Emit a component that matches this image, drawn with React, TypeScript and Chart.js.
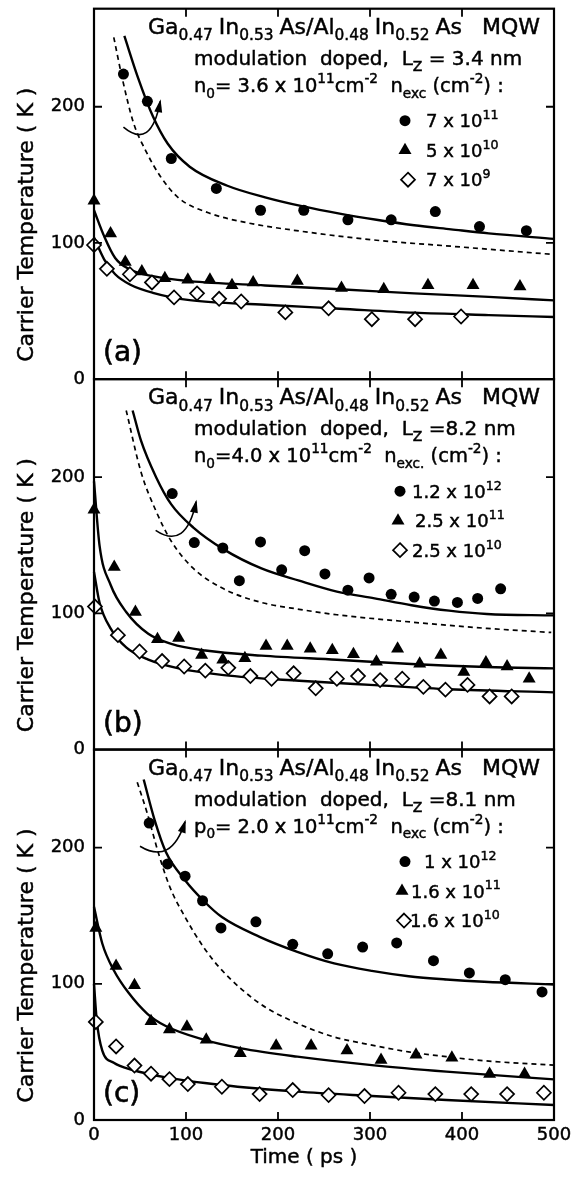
import React, { useEffect, useRef } from 'react';
import { Chart, registerables } from 'chart.js';

Chart.register(...registerables);

const FONT = '"DejaVu Sans", "Liberation Sans", sans-serif';

// ---------- axes ----------
const X_TICKS = [0, 100, 200, 300, 400, 500];
const Y_TICKS = [0, 100, 200];
const X_MIN = 0;
const X_MAX = 500;
const Y_MAX = 272;

// ---------- panel (a) ----------
const A_CIRC_T = [32, 58, 84, 133, 181, 228, 276, 323, 371, 419, 470];
const A_CIRC_K = [224, 204, 162, 140, 124, 124, 117, 117, 123, 112, 109];
const A_TRI_T = [0, 18, 34, 52, 77, 102, 126, 150, 173, 221, 269, 315, 363, 412, 463];
const A_TRI_K = [131, 107, 86, 79, 74, 73, 73, 69, 71, 72, 67, 66, 69, 69, 68];
const A_DIA_T = [0, 14, 39, 63, 87, 112, 136, 160, 208, 255, 302, 349, 399];
const A_DIA_K = [98.5, 81, 77, 71, 60, 63, 59, 57, 49, 52, 44, 44, 46];
const A_FIT1_T = [33, 47.5, 64, 80, 104, 145, 186, 226, 267, 307, 348, 388, 429, 500];
const A_FIT1_K = [252, 222, 193, 173, 156, 142, 133.5, 127, 121.5, 117, 113, 110, 107, 103];
const A_DASH_T = [21.5, 31, 43, 56, 72, 92, 125, 165, 226, 307, 388, 500];
const A_DASH_K = [251, 220, 188, 168, 149, 133, 122, 115, 108.5, 102, 97.6, 91.5];
const A_FIT2_T = [0, 11, 23, 39, 64, 104, 186, 267, 348, 429, 500];
const A_FIT2_K = [124, 105, 89, 80.5, 75.6, 72, 68.8, 66, 63, 60.4, 57.8];
const A_FIT3_T = [0, 11, 23, 39, 64, 104, 186, 267, 348, 429, 500];
const A_FIT3_K = [104, 88, 77, 69.5, 63.4, 58, 54.6, 51.7, 48.8, 47, 45.6];
const A_ARROW_T = [32, 62, 72];
const A_ARROW_K = [185, 168, 204];

// ---------- panel (b) ----------
const B_CIRC_T = [85, 109, 140, 158, 181, 204, 229, 251, 276, 299, 323, 348, 370, 395, 417, 442];
const B_CIRC_K = [188, 152, 148, 124, 152.5, 132, 146, 129, 117, 126, 114, 112, 109, 108, 111, 118];
const B_TRI_T = [0, 22, 45, 69, 92, 117, 140, 164, 187, 210, 235, 259, 282, 307, 330, 354, 377, 402, 426, 449, 473];
const B_TRI_K = [176, 134, 101, 81, 82, 69.5, 66, 67, 76, 76, 74, 73, 70, 64.5, 74, 63, 69.5, 57, 64, 61, 52];
const B_DIA_T = [1, 26, 49.5, 74, 98, 121, 146, 170, 193, 217, 241, 264, 287, 311, 335, 358, 382, 406, 430, 454];
const B_DIA_K = [105, 84, 72, 65, 61, 58, 60, 54, 52, 56, 45, 52, 54, 51, 52, 46, 44, 47.5, 39, 39];
const B_FIT1_T = [42, 51, 67.5, 84, 108, 141, 182, 223, 264, 305, 345, 386, 427, 500];
const B_FIT1_K = [249, 227, 200, 180, 163, 147, 133, 124, 116, 111, 106, 102, 99.5, 98.5];
const B_DASH_T = [35, 51, 67.5, 84, 108, 141, 182, 223, 264, 345, 427, 497];
const B_DASH_K = [249, 204, 175, 153, 133, 118, 108, 103, 99, 93.6, 89, 86];
const B_FIT2_T = [0, 6, 18, 35, 59, 84, 121, 182, 264, 345, 427, 500];
const B_FIT2_K = [197, 150, 121, 101, 85, 77.6, 72.7, 69, 66, 62.8, 60.6, 59.6];
const B_FIT3_T = [0, 6, 18, 35, 59, 92, 141, 223, 305, 386, 500];
const B_FIT3_K = [130.5, 108, 89, 75, 66, 59.6, 54.7, 50.5, 47.3, 44.3, 42];
const B_ARROW_T = [67, 100, 111];
const B_ARROW_K = [161, 146, 182];

// ---------- panel (c) ----------
const C_CIRC_T = [60, 80, 99, 118, 138, 176, 216, 254, 292, 329, 369, 408, 447, 487];
const C_CIRC_K = [218, 188, 179, 161, 141, 145.5, 129, 122, 127, 130, 117, 108, 103, 94];
const C_TRI_T = [2, 24, 44, 62, 82, 101, 122, 159, 198, 236, 275, 312, 350, 389, 430, 468];
const C_TRI_K = [141, 113, 99, 72.6, 66.5, 68.5, 59, 49, 54.5, 54.5, 51, 44, 48, 45.7, 33.7, 33.7];
const C_DIA_T = [2, 24, 44, 62, 82, 102, 139, 180, 216, 255, 294, 331, 371, 410, 449, 489];
const C_DIA_K = [72, 54, 40, 34, 30, 26.4, 24.4, 19, 22, 18.3, 17.6, 20, 19, 19, 19, 20];
const C_FIT1_T = [54, 66, 78, 99, 119, 139, 180, 221, 261, 302, 342, 383, 424, 500];
const C_FIT1_K = [250, 220, 197, 176, 161, 149, 134.5, 123.5, 115, 109.5, 105.6, 103.2, 101.5, 99.5];
const C_DASH_T = [47, 58, 70, 82.5, 99, 119, 139, 180, 221, 261, 302, 342, 383, 424, 500];
const C_DASH_K = [248, 225, 196, 171, 149, 127, 110, 85.6, 71, 61, 55, 50, 46.5, 43.5, 40.3];
const C_FIT2_T = [0, 9, 21.5, 38, 58, 78, 119, 160, 221, 302, 383, 500];
const C_FIT2_K = [156.5, 129.6, 110, 93, 78, 69, 59, 52.6, 46.5, 40.3, 35.5, 29.8];
const C_FIT3_T = [0, 3, 9, 21.5, 42, 78, 139, 221, 302, 383, 500];
const C_FIT3_K = [100, 73, 51, 42, 36.7, 31.3, 25.7, 20.8, 17.6, 14.7, 11];
const C_ARROW_T = [50, 84, 99];
const C_ARROW_K = [201, 187, 219];

// ---------- texts ----------
type Seg = [string, number]; // 0 normal, -1 subscript, 1 superscript
const HEAD: Seg[] = [['Ga', 0], ['0.47', -1], ['In', 0], ['0.53', -1], ['As/Al', 0], ['0.48', -1], ['In', 0], ['0.52', -1], ['As', 0], ['  MQW', 0]];
const A_LINE2: Seg[] = [['modulation  doped,  L', 0], ['Z', -1], [' = 3.4 nm', 0]];
const B_LINE2: Seg[] = [['modulation  doped,  L', 0], ['Z', -1], [' =8.2 nm', 0]];
const C_LINE2: Seg[] = [['modulation  doped,  L', 0], ['Z', -1], [' =8.1 nm', 0]];
const A_LINE3: Seg[] = [['n', 0], ['0', -1], ['= 3.6 x 10', 0], ['11', 1], ['cm', 0], ['-2', 1], ['  n', 0], ['exc', -1], [' (cm', 0], ['-2', 1], [') :', 0]];
const B_LINE3: Seg[] = [['n', 0], ['0', -1], ['=4.0 x 10', 0], ['11', 1], ['cm', 0], ['-2', 1], ['  n', 0], ['exc.', -1], [' (cm', 0], ['-2', 1], [') :', 0]];
const C_LINE3: Seg[] = [['p', 0], ['0', -1], ['= 2.0 x 10', 0], ['11', 1], ['cm', 0], ['-2', 1], ['  n', 0], ['exc', -1], [' (cm', 0], ['-2', 1], [') :', 0]];
const A_LEGEND: Seg[][] = [[['7 x 10', 0], ['11', 1]], [['5 x 10', 0], ['10', 1]], [['7 x 10', 0], ['9', 1]]];
const B_LEGEND: Seg[][] = [[['1.2 x 10', 0], ['12', 1]], [['2.5 x 10', 0], ['11', 1]], [['2.5 x 10', 0], ['10', 1]]];
const C_LEGEND: Seg[][] = [[['1 x 10', 0], ['12', 1]], [['1.6 x 10', 0], ['11', 1]], [['1.6 x 10', 0], ['10', 1]]];
const Y_TITLE = 'Carrier Temperature ( K )';
const X_TITLE = 'Time ( ps )';

const PANELS = [
  { id: 'yA', tag: '(a)', circ: [A_CIRC_T, A_CIRC_K], tri: [A_TRI_T, A_TRI_K], dia: [A_DIA_T, A_DIA_K],
    fits: [[A_FIT1_T, A_FIT1_K], [A_FIT2_T, A_FIT2_K], [A_FIT3_T, A_FIT3_K]], dash: [A_DASH_T, A_DASH_K],
    arrow: [A_ARROW_T, A_ARROW_K], line2: A_LINE2, line3: A_LINE3, legend: A_LEGEND,
    mx: [311, 311, 314], tx: [332, 332, 332] },
  { id: 'yB', tag: '(b)', circ: [B_CIRC_T, B_CIRC_K], tri: [B_TRI_T, B_TRI_K], dia: [B_DIA_T, B_DIA_K],
    fits: [[B_FIT1_T, B_FIT1_K], [B_FIT2_T, B_FIT2_K], [B_FIT3_T, B_FIT3_K]], dash: [B_DASH_T, B_DASH_K],
    arrow: [B_ARROW_T, B_ARROW_K], line2: B_LINE2, line3: B_LINE3, legend: B_LEGEND,
    mx: [306, 304, 306], tx: [318, 321, 318] },
  { id: 'yC', tag: '(c)', circ: [C_CIRC_T, C_CIRC_K], tri: [C_TRI_T, C_TRI_K], dia: [C_DIA_T, C_DIA_K],
    fits: [[C_FIT1_T, C_FIT1_K], [C_FIT2_T, C_FIT2_K], [C_FIT3_T, C_FIT3_K]], dash: [C_DASH_T, C_DASH_K],
    arrow: [C_ARROW_T, C_ARROW_K], line2: C_LINE2, line3: C_LINE3, legend: C_LEGEND,
    mx: [311, 308, 310], tx: [330, 317, 316] },
];

const pts = (ts: number[], ks: number[]) => ts.map((t, i) => ({ x: t, y: ks[i] }));

const R_CIRC = 5.5;
const R_TRI = 7.5;
const R_DIA = 7;
const TEXT_STROKE = 0.45;

function markerDs(id: string, d: number[][], style: string) {
  const base: any = { yAxisID: id, data: pts(d[0], d[1]), showLine: false, clip: false, order: 0,
    pointBorderColor: '#000', pointBackgroundColor: '#000', pointBorderWidth: 0 };
  if (style === 'circle') return { ...base, pointStyle: 'circle', pointRadius: R_CIRC };
  if (style === 'triangle') return { ...base, pointStyle: 'triangle', pointRadius: R_TRI };
  return { ...base, pointStyle: 'rectRot', pointRadius: R_DIA, pointBackgroundColor: '#fff', pointBorderWidth: 1.7 };
}

function curveDs(id: string, d: number[][], dashed: boolean) {
  return { yAxisID: id, data: pts(d[0], d[1]), showLine: true, pointRadius: 0, borderColor: '#000',
    borderWidth: dashed ? 1.7 : 2.4, borderDash: dashed ? [5, 4] : [], cubicInterpolationMode: 'monotone',
    fill: false, clip: false, order: 1 };
}

function segFont(size: number, k: number) {
  return `${k ? size * 0.7 : size}px ${FONT}`;
}

// draws a line of text with sub/superscripts; if fitWidth is given, extra space goes before normal segments
function drawRich(ctx: CanvasRenderingContext2D, segs: Seg[], x: number, y: number, size: number, fitWidth = 0) {
  ctx.textAlign = 'left';
  ctx.textBaseline = 'alphabetic';
  let natural = 0;
  let nGaps = 0;
  segs.forEach(([t, k], i) => {
    ctx.font = segFont(size, k);
    natural += ctx.measureText(t).width;
    if (i > 0 && k === 0) nGaps++;
  });
  const gap = fitWidth > 0 && nGaps > 0 ? Math.max(0, (fitWidth - natural) / nGaps) : 0;
  let cx = x;
  ctx.lineWidth = TEXT_STROKE;
  ctx.strokeStyle = '#000';
  segs.forEach(([t, k], i) => {
    if (i > 0 && k === 0) cx += gap;
    ctx.font = segFont(size, k);
    const dy = k === -1 ? size * 0.3 : k === 1 ? -size * 0.45 : 0;
    ctx.fillText(t, cx, y + dy);
    ctx.strokeText(t, cx, y + dy);
    cx += ctx.measureText(t).width;
  });
}

function drawMarker(ctx: CanvasRenderingContext2D, style: number, x: number, y: number) {
  ctx.beginPath();
  if (style === 0) {
    ctx.arc(x, y, R_CIRC, 0, Math.PI * 2);
    ctx.fillStyle = '#000';
    ctx.fill();
  } else if (style === 1) {
    ctx.moveTo(x, y - R_TRI);
    ctx.lineTo(x + R_TRI * 0.866, y + R_TRI * 0.5);
    ctx.lineTo(x - R_TRI * 0.866, y + R_TRI * 0.5);
    ctx.closePath();
    ctx.fillStyle = '#000';
    ctx.fill();
  } else {
    ctx.moveTo(x, y - R_DIA);
    ctx.lineTo(x + R_DIA, y);
    ctx.lineTo(x, y + R_DIA);
    ctx.lineTo(x - R_DIA, y);
    ctx.closePath();
    ctx.fillStyle = '#fff';
    ctx.fill();
    ctx.lineWidth = 1.7;
    ctx.strokeStyle = '#000';
    ctx.stroke();
  }
}

const TICK = 8;

const decoPlugin = {
  id: 'deco',
  afterDatasetsDraw(chart: any) {
    const ctx = chart.ctx as CanvasRenderingContext2D;
    const xs = chart.scales.x;
    const { left, right } = chart.chartArea;
    ctx.save();
    ctx.fillStyle = '#000';
    ctx.strokeStyle = '#000';
    PANELS.forEach((p) => {
      const ys = chart.scales[p.id];
      const top = ys.top;
      const bottom = ys.bottom;
      // frame
      ctx.lineWidth = 2.2;
      ctx.strokeStyle = '#000';
      ctx.strokeRect(left, top, right - left, bottom - top);
      // inward ticks
      ctx.lineWidth = 1.8;
      ctx.beginPath();
      X_TICKS.slice(1, -1).forEach((v) => {
        const px = xs.getPixelForValue(v);
        ctx.moveTo(px, top);
        ctx.lineTo(px, top + TICK);
        ctx.moveTo(px, bottom);
        ctx.lineTo(px, bottom - TICK);
      });
      Y_TICKS.slice(1).forEach((v) => {
        const py = ys.getPixelForValue(v);
        ctx.moveTo(left, py);
        ctx.lineTo(left + TICK, py);
        ctx.moveTo(right, py);
        ctx.lineTo(right - TICK, py);
      });
      ctx.stroke();
      // curved arrow
      const [at, ak] = p.arrow;
      const P = at.map((t: number, i: number) => [xs.getPixelForValue(t), ys.getPixelForValue(ak[i])]);
      ctx.lineWidth = 1.6;
      ctx.beginPath();
      ctx.moveTo(P[0][0], P[0][1]);
      ctx.quadraticCurveTo(P[1][0], P[1][1], P[2][0], P[2][1]);
      ctx.stroke();
      const ang = Math.atan2(P[2][1] - P[1][1], P[2][0] - P[1][0]);
      const hl = 11, hw = 4;
      ctx.beginPath();
      ctx.moveTo(P[2][0] + Math.cos(ang) * 2, P[2][1] + Math.sin(ang) * 2);
      ctx.lineTo(P[2][0] - Math.cos(ang) * hl + Math.sin(ang) * hw, P[2][1] - Math.sin(ang) * hl - Math.cos(ang) * hw);
      ctx.lineTo(P[2][0] - Math.cos(ang) * hl - Math.sin(ang) * hw, P[2][1] - Math.sin(ang) * hl + Math.cos(ang) * hw);
      ctx.closePath();
      ctx.fillStyle = '#000';
      ctx.fill();
      // annotation
      ctx.fillStyle = '#000';
      drawRich(ctx, HEAD, left + 54, top + 25, 22, 392);
      drawRich(ctx, p.line2, left + 100, top + 56, 20);
      drawRich(ctx, p.line3, left + 100, top + 83, 19.5);
      p.legend.forEach((segs: Seg[], i: number) => {
        const cy = top + 112 + i * 29.5;
        drawMarker(ctx, i, left + p.mx[i], cy);
        ctx.fillStyle = '#000';
        drawRich(ctx, segs, left + p.tx[i], cy + 6.5, 18);
      });
      // panel tag
      ctx.font = `28px ${FONT}`;
      ctx.textAlign = 'left';
      ctx.textBaseline = 'alphabetic';
      ctx.lineWidth = 0.6;
      ctx.fillText(p.tag, left + 9, bottom - 18);
      ctx.strokeText(p.tag, left + 9, bottom - 18);
      // y title
      ctx.save();
      ctx.translate(27, top + 216);
      ctx.rotate(-Math.PI / 2);
      ctx.font = `22px ${FONT}`;
      ctx.textAlign = 'center';
      ctx.textBaseline = 'middle';
      ctx.lineWidth = TEXT_STROKE;
      ctx.fillText(Y_TITLE, 0, 0);
      ctx.strokeText(Y_TITLE, 0, 0);
      ctx.restore();
    });
    // x title
    ctx.font = `20px ${FONT}`;
    ctx.textAlign = 'center';
    ctx.textBaseline = 'alphabetic';
    ctx.lineWidth = TEXT_STROKE;
    ctx.fillText(X_TITLE, left + 210, chart.chartArea.bottom + 43);
    ctx.strokeText(X_TITLE, left + 210, chart.chartArea.bottom + 43);
    ctx.restore();
  },
};

function yScale() {
  return {
    type: 'linear',
    position: 'left',
    stack: 'panels',
    stackWeight: 1,
    min: 0,
    max: Y_MAX,
    grid: { display: false, drawTicks: false },
    border: { display: false },
    ticks: { color: '#000', font: { family: FONT, size: 18 }, padding: 9, textStrokeColor: '#000', textStrokeWidth: TEXT_STROKE },
    afterBuildTicks: (s: any) => { s.ticks = Y_TICKS.map((v) => ({ value: v })); },
    afterFit: (s: any) => { s.width = 94; s.paddingTop = 0; s.paddingBottom = 0; },
  };
}

export default function App() {
  const ref = useRef<HTMLCanvasElement>(null);
  useEffect(() => {
    document.body.style.margin = '0';
    const datasets: any[] = [];
    PANELS.forEach((p) => {
      datasets.push(markerDs(p.id, p.circ, 'circle'));
      datasets.push(markerDs(p.id, p.tri, 'triangle'));
      datasets.push(markerDs(p.id, p.dia, 'diamond'));
      p.fits.forEach((f) => datasets.push(curveDs(p.id, f, false)));
      datasets.push(curveDs(p.id, p.dash, true));
    });
    const chart = new Chart(ref.current as HTMLCanvasElement, {
      type: 'scatter',
      data: { datasets },
      options: {
        animation: false,
        responsive: false,
        events: [],
        layout: { padding: { top: 5, right: 30, left: 0, bottom: 0 } },
        plugins: { legend: { display: false }, tooltip: { enabled: false } },
        scales: {
          x: {
            type: 'linear',
            position: 'bottom',
            min: X_MIN,
            max: X_MAX,
            grid: { display: false, drawTicks: false },
            border: { display: false },
            ticks: { stepSize: 100, color: '#000', font: { family: FONT, size: 18 }, padding: 5, maxRotation: 0,
              textStrokeColor: '#000', textStrokeWidth: TEXT_STROKE },
            afterBuildTicks: (s: any) => { s.ticks = X_TICKS.map((v) => ({ value: v })); },
            afterFit: (s: any) => { s.height = 58; s.paddingLeft = 0; s.paddingRight = 0; },
          },
          yC: yScale(),
          yB: yScale(),
          yA: yScale(),
        } as any,
      },
      plugins: [decoPlugin],
    } as any);
    return () => chart.destroy();
  }, []);
  return (
    <div style={{ position: 'absolute', left: 0, top: 0, width: 584, height: 1178, background: '#fff' }}>
      <canvas ref={ref} width={584} height={1178} style={{ display: 'block', width: 584, height: 1178 }} />
    </div>
  );
}
